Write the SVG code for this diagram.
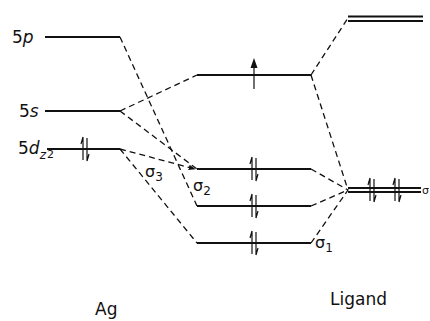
<svg xmlns="http://www.w3.org/2000/svg" width="430" height="321" viewBox="0 0 430 321">
<style>
.lv{stroke:#111;stroke-width:2;fill:none;stroke-linecap:butt}
.ds{stroke:#111;stroke-width:1.3;fill:none;stroke-dasharray:6 4}
.sp{stroke:#111;stroke-width:1.2;fill:none}
text{font-family:"DejaVu Sans","Liberation Sans",sans-serif;fill:#111}
.lb{font-size:17px}
.sg{font-size:16px}
</style>
<defs>
<g id="pair">
<path class="sp" d="M-2,11 V-12 M-2,-12 L-4,-5 M2,-11 V12 M2,12 L4,5"/>
</g>
<marker id="ah" viewBox="0 0 10 10" refX="9" refY="5" markerWidth="7" markerHeight="7" orient="auto" markerUnits="userSpaceOnUse">
<path d="M0,1 L10,5 L0,9 Z" fill="#111"/>
</marker>
</defs>
<rect width="430" height="321" fill="#fff"/>
<g id="connectors">
<path class="ds" d="M120,37 L197,206"/>
<path class="ds" d="M120,111 L197,75"/>
<path class="ds" d="M120,111 L197,169"/>
<path class="ds" d="M120,149 L195,169" marker-end="url(#ah)"/>
<path class="ds" d="M120,149 L197,243"/>
<path class="ds" d="M311,75 L348,18"/>
<path class="ds" d="M311,75 L348,190"/>
<path class="ds" d="M311,169 L348,190"/>
<path class="ds" d="M311,206 L348,190"/>
<path class="ds" d="M311,243 L348,190"/>
</g>
<g id="ag5p">
<path class="lv" d="M45,37 H120"/>
<text class="lb" x="12" y="43">5<tspan font-style="italic">p</tspan></text>
</g>
<g id="ag5s">
<path class="lv" d="M45,111 H120"/>
<text class="lb" x="19" y="117">5<tspan font-style="italic">s</tspan></text>
</g>
<g id="ag5d">
<path class="lv" d="M47,149 H120"/>
<use href="#pair" x="85" y="149"/>
<text class="lb" x="18" y="154">5<tspan font-style="italic">d</tspan><tspan font-size="12" font-style="italic" dy="5">z</tspan><tspan font-size="11" dy="-1" dx="1">2</tspan></text>
</g>
<g id="mo1">
<path class="lv" d="M197,75 H311"/>
<path class="sp" d="M254,89 V66"/>
<path d="M250.5,68 L254,58 L257.5,68 Z" fill="#111"/>
</g>
<g id="mo2">
<path class="lv" d="M197,169 H311"/>
<use href="#pair" x="254" y="169"/>
</g>
<g id="mo3">
<path class="lv" d="M197,206 H311"/>
<use href="#pair" x="254" y="206"/>
</g>
<g id="mo4">
<path class="lv" d="M197,243 H311"/>
<use href="#pair" x="254" y="243"/>
</g>
<g id="lig-upper">
<path class="lv" d="M348,16.5 H423 M348,21 H423"/>
</g>
<g id="lig-lower">
<path class="lv" d="M348,188 H421 M348,192 H421"/>
<use href="#pair" x="372" y="190"/>
<use href="#pair" x="397" y="190"/>
<text x="422" y="194" font-size="11">σ</text>
</g>
<g id="labels">
<text class="sg" x="145" y="177">σ<tspan font-size="12" dy="4">3</tspan></text>
<text class="sg" x="193" y="191">σ<tspan font-size="12" dy="4">2</tspan></text>
<text class="sg" x="315" y="248">σ<tspan font-size="12" dy="4">1</tspan></text>
<text class="lb" x="95" y="315">Ag</text>
<text class="lb" x="330" y="305">Ligand</text>
</g>
</svg>
